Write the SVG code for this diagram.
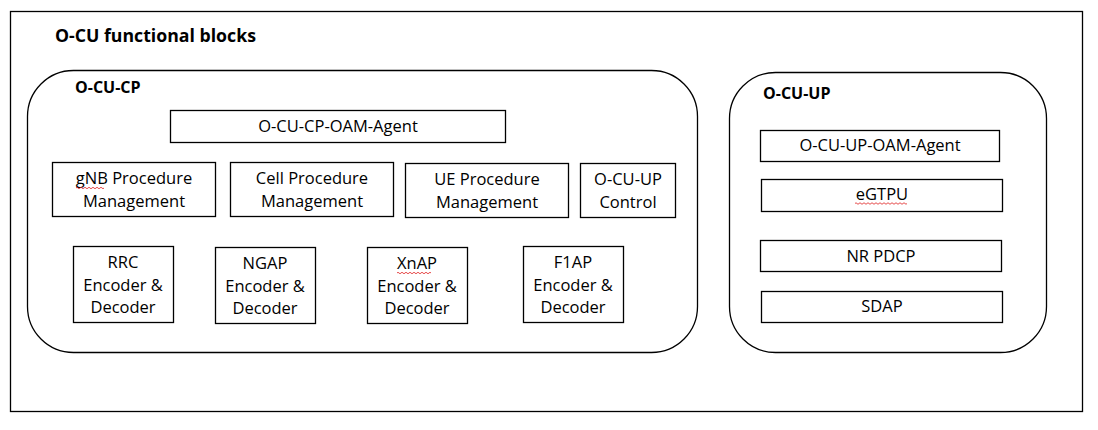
<svg xmlns="http://www.w3.org/2000/svg" width="1098" height="430" viewBox="0 0 1098 430">
<style>
.frame{fill:#fff;stroke:#000;stroke-width:1.3}
.box{fill:#fff;stroke:#000;stroke-width:1.3}
.t{font-family:"Open Sans","Liberation Sans",sans-serif;font-size:16.5px;fill:#000;text-anchor:middle}
.b{font-family:"Open Sans","Liberation Sans",sans-serif;font-size:16px;font-weight:bold;fill:#000}
.sq{fill:none;stroke:#e02020;stroke-width:0.8}
</style>
<rect x="0" y="0" width="1098" height="430" fill="#fff"/>
<g id="outer">
<rect class="frame" x="10.5" y="11.5" width="1072" height="400"/>
<text class="b" x="55" y="42" style="font-size:17.7px">O-CU functional blocks</text>
</g>
<g id="ocucp">
<rect class="frame" x="27.5" y="70.5" width="670" height="282" rx="46" ry="46"/>
<text class="b" x="75" y="93">O-CU-CP</text>
</g>
<g id="cp-oam">
<rect class="box" x="170.5" y="110.5" width="335" height="32"/>
<text class="t" x="338" y="132">O-CU-CP-OAM-Agent</text>
</g>
<g id="gnb-proc">
<rect class="box" x="52.5" y="162.5" width="163" height="54"/>
<text class="t" x="134" y="184">gNB Procedure</text>
<text class="t" x="134" y="207">Management</text>
<path class="sq" d="M76,188 q1,-1.5 2,0 t2,0 t2,0 t2,0 t2,0 t2,0 t2,0 t2,0 t2,0 t2,0 t2,0 t2,0 t2,0 t2,0"/>
</g>
<g id="cell-proc">
<rect class="box" x="230.5" y="162.5" width="163" height="54"/>
<text class="t" x="312" y="184">Cell Procedure</text>
<text class="t" x="312" y="207">Management</text>
</g>
<g id="ue-proc">
<rect class="box" x="405.5" y="163.5" width="163" height="54"/>
<text class="t" x="487" y="185">UE Procedure</text>
<text class="t" x="487" y="208">Management</text>
</g>
<g id="up-control">
<rect class="box" x="580.5" y="163.5" width="95" height="54"/>
<text class="t" x="628" y="185">O-CU-UP</text>
<text class="t" x="628" y="208">Control</text>
</g>
<g id="rrc">
<rect class="box" x="73.5" y="246.5" width="100" height="76"/>
<text class="t" x="123" y="268">RRC</text>
<text class="t" x="123" y="291">Encoder &amp;</text>
<text class="t" x="123" y="313">Decoder</text>
</g>
<g id="ngap">
<rect class="box" x="215.5" y="247.5" width="100" height="76"/>
<text class="t" x="265" y="269">NGAP</text>
<text class="t" x="265" y="292">Encoder &amp;</text>
<text class="t" x="265" y="314">Decoder</text>
</g>
<g id="xnap">
<rect class="box" x="367.5" y="247.5" width="100" height="76"/>
<text class="t" x="417" y="269">XnAP</text>
<text class="t" x="417" y="292">Encoder &amp;</text>
<text class="t" x="417" y="314">Decoder</text>
<path class="sq" d="M397,273 q1,-1.5 2,0 t2,0 t2,0 t2,0 t2,0 t2,0 t2,0 t2,0 t2,0 t2,0 t2,0 t2,0 t2,0 t2,0 t2,0 t2,0 t2,0"/>
</g>
<g id="f1ap">
<rect class="box" x="523.5" y="246.5" width="100" height="76"/>
<text class="t" x="573" y="268">F1AP</text>
<text class="t" x="573" y="291">Encoder &amp;</text>
<text class="t" x="573" y="313">Decoder</text>
</g>
<g id="ocuup">
<rect class="frame" x="729.5" y="72.5" width="317" height="280" rx="46" ry="46"/>
<text class="b" x="763" y="99">O-CU-UP</text>
</g>
<g id="up-oam">
<rect class="box" x="760.5" y="130.5" width="239" height="31"/>
<text class="t" x="880" y="151">O-CU-UP-OAM-Agent</text>
</g>
<g id="egtpu">
<rect class="box" x="761.5" y="179.5" width="241" height="32"/>
<text class="t" x="882" y="200">eGTPU</text>
<path class="sq" d="M855,203.5 q1,-1.5 2,0 t2,0 t2,0 t2,0 t2,0 t2,0 t2,0 t2,0 t2,0 t2,0 t2,0 t2,0 t2,0 t2,0 t2,0 t2,0 t2,0 t2,0 t2,0 t2,0 t2,0 t2,0 t2,0 t2,0 t2,0 t2,0"/>
</g>
<g id="nr-pdcp">
<rect class="box" x="760.5" y="240.5" width="241" height="31"/>
<text class="t" x="881" y="262">NR PDCP</text>
</g>
<g id="sdap">
<rect class="box" x="761.5" y="291.5" width="241" height="31"/>
<text class="t" x="882" y="312">SDAP</text>
</g>
<g id="connectors"></g>
</svg>
